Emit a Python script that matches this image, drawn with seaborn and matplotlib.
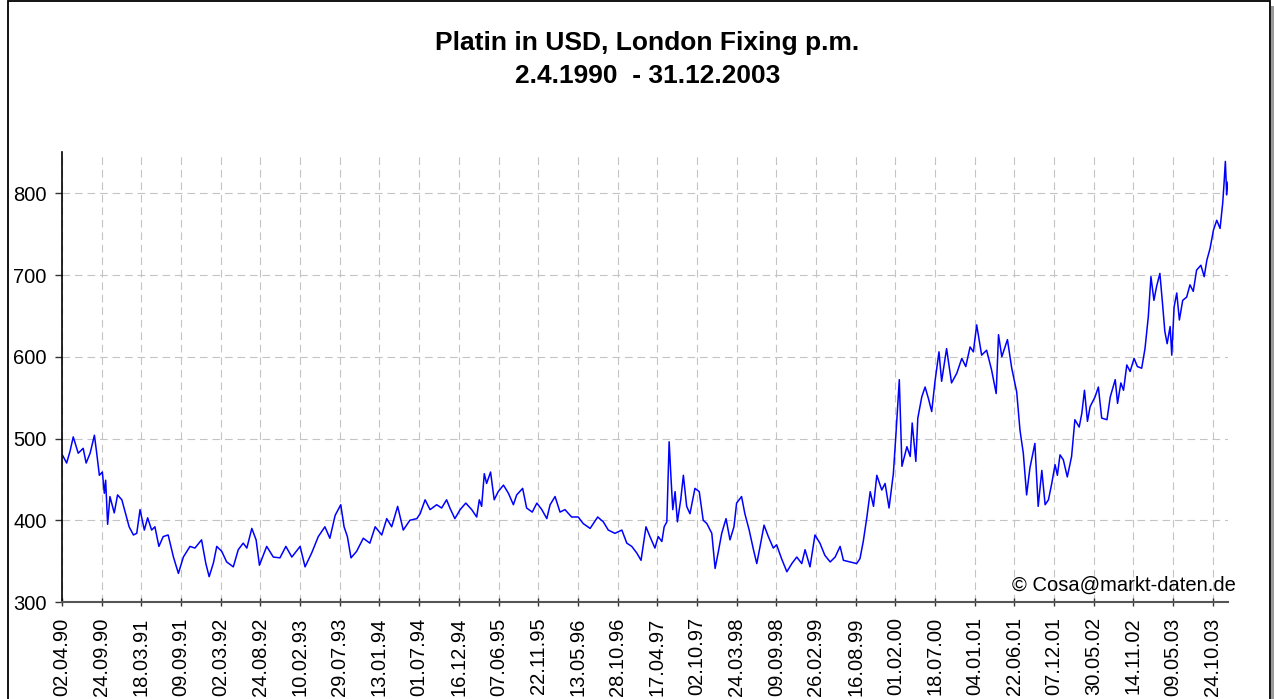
import matplotlib
matplotlib.use("Agg")
import matplotlib.pyplot as plt
from matplotlib.patches import Rectangle
import seaborn as sns
import pandas as pd

# trading day number since 02.04.1990 and the p.m. fixing in USD
day = [1, 14, 24, 34, 49, 64, 73, 85, 98, 105, 113, 122, 128, 132, 138, 145, 158, 168, 181, 191,
       203, 216, 226, 236, 249, 259, 271, 281, 293, 306, 321, 337, 352, 367, 387, 402, 422, 435, 445, 458,
       468, 483, 498, 518, 533, 548, 559, 574, 587, 597, 619, 639, 659, 677, 695, 720, 735, 755, 775, 795,
       810, 826, 843, 853, 863, 874, 891, 911, 931, 947, 967, 982, 997, 1015, 1032, 1052, 1073, 1083, 1098, 1113,
       1133, 1148, 1163, 1173, 1188, 1204, 1221, 1239, 1254, 1262, 1269, 1277, 1284, 1296, 1307, 1319, 1335, 1350, 1365, 1375,
       1393, 1405, 1422, 1436, 1451, 1466, 1476, 1491, 1506, 1521, 1541, 1561, 1576, 1597, 1620, 1637, 1652, 1672, 1693, 1708,
       1723, 1738, 1751, 1766, 1778, 1793, 1803, 1814, 1821, 1829, 1836, 1842, 1847, 1854, 1861, 1871, 1879, 1889, 1899, 1914,
       1927, 1939, 1950, 1965, 1975, 1985, 1995, 2008, 2020, 2032, 2040, 2055, 2065, 2078, 2091, 2101, 2111, 2123, 2136, 2151,
       2161, 2176, 2192, 2207, 2222, 2237, 2247, 2262, 2277, 2292, 2307, 2323, 2338, 2353, 2363, 2383, 2403, 2413, 2423, 2434,
       2444, 2454, 2464, 2479, 2489, 2501, 2514, 2522, 2532, 2540, 2555, 2565, 2571, 2582, 2588, 2600, 2610, 2620, 2630, 2640,
       2652, 2660, 2675, 2690, 2706, 2721, 2733, 2746, 2756, 2766, 2781, 2796, 2811, 2825, 2832, 2842, 2859, 2872, 2887, 2897,
       2907, 2917, 2927, 2942, 2952, 2963, 2973, 2983, 2993, 3003, 3010, 3018, 3028, 3040, 3053, 3063, 3076, 3084, 3092, 3101,
       3109, 3124, 3134, 3144, 3160, 3170, 3185, 3192, 3202, 3210, 3220, 3230, 3242, 3252, 3265, 3275, 3285, 3293, 3302, 3310,
       3320, 3328, 3335, 3342, 3351, 3356, 3363, 3371, 3379, 3389, 3401, 3411, 3421, 3431, 3444, 3454, 3462, 3472, 3482, 3492,
       3502, 3510, 3514, 3518, 3522, 3526]
price = [480, 470, 484, 502, 482, 488, 470, 482, 504, 482, 455, 459, 433, 449, 395, 429, 409, 431, 425, 410,
         392, 382, 384, 413, 388, 403, 388, 392, 368, 380, 382, 355, 335, 355, 368, 366, 376, 347, 331, 348,
         368, 362, 349, 343, 364, 372, 366, 390, 376, 345, 368, 355, 354, 368, 355, 368, 343, 360, 380, 392,
         378, 406, 419, 392, 380, 354, 362, 378, 372, 392, 382, 402, 392, 417, 388, 400, 402, 408, 425, 413,
         419, 415, 425, 415, 402, 413, 421, 413, 404, 425, 417, 457, 445, 459, 425, 435, 443, 433, 419, 431,
         439, 415, 410, 421, 413, 402, 419, 429, 410, 413, 404, 404, 396, 390, 404, 398, 388, 384, 388, 372,
         368, 360, 351, 392, 380, 366, 380, 374, 392, 398, 496, 449, 413, 435, 398, 425, 455, 417, 408, 439,
         435, 400, 396, 384, 341, 362, 384, 402, 376, 392, 421, 429, 408, 388, 364, 347, 368, 394, 380, 366,
         370, 353, 337, 347, 355, 347, 364, 343, 382, 372, 357, 349, 355, 368, 351, 349, 347, 353, 374, 404,
         435, 417, 455, 437, 445, 415, 457, 506, 572, 466, 490, 478, 519, 472, 525, 551, 563, 549, 533, 570,
         606, 570, 610, 568, 580, 598, 588, 612, 606, 639, 602, 608, 584, 555, 627, 600, 621, 586, 557, 510,
         482, 431, 464, 494, 417, 461, 419, 425, 445, 468, 455, 480, 474, 453, 478, 523, 514, 531, 559, 521,
         539, 551, 563, 525, 523, 551, 572, 543, 568, 559, 590, 582, 598, 588, 586, 610, 649, 698, 669, 686,
         702, 665, 631, 616, 637, 602, 661, 678, 645, 669, 673, 688, 680, 706, 712, 698, 718, 733, 755, 767,
         757, 788, 812, 839, 798, 814]

tick_labels = ["02.04.90", "24.09.90", "18.03.91", "09.09.91", "02.03.92", "24.08.92", "10.02.93",
               "29.07.93", "13.01.94", "01.07.94", "16.12.94", "07.06.95", "22.11.95", "13.05.96",
               "28.10.96", "17.04.97", "02.10.97", "24.03.98", "09.09.98", "26.02.99", "16.08.99",
               "01.02.00", "18.07.00", "04.01.01", "22.06.01", "07.12.01", "30.05.02", "14.11.02",
               "09.05.03", "24.10.03"]
tick_step = 120
y_ticks = [300, 400, 500, 600, 700, 800]

df = pd.DataFrame({"day": day, "price": price})

sns.set_theme(style="white")
plt.rcParams["font.family"] = ["Liberation Sans", "DejaVu Sans"]
plt.rcParams["lines.scale_dashes"] = False
plt.rcParams["text.color"] = "black"

fig = plt.figure(figsize=(12.74, 6.99), dpi=100)
W, H = 1274, 699
ax = fig.add_axes([62 / W, 1 - 602 / H, (1228 - 62) / W, (602 - 152) / H])

sns.lineplot(data=df, x="day", y="price", color="#0000ff", linewidth=1.1, ax=ax)

ax.set_xlim(0, 3526)
ax.set_ylim(300, 850.5)
ax.set_xticks([i * tick_step for i in range(len(tick_labels))])
ax.set_xticklabels(tick_labels, rotation=90, fontsize=14.5)
ax.set_yticks(y_ticks)
ax.set_yticklabels([str(v) for v in y_ticks], fontsize=14.5)
ax.set_xlabel("")
ax.set_ylabel("")

ax.grid(True, color="#c4c4c4", linestyle=(0, (5.5, 3.5)), linewidth=0.8)
ax.set_axisbelow(True)
for s in ["top", "right"]:
    ax.spines[s].set_visible(False)
ax.spines["left"].set_color("black")
ax.spines["left"].set_linewidth(1.2)
ax.spines["bottom"].set_color("#555555")
ax.spines["bottom"].set_linewidth(1.5)
ax.tick_params(axis="x", direction="inout", length=6, width=1, color="#333333",
               pad=8, labelcolor="black", bottom=True)
ax.tick_params(axis="y", direction="out", length=5, width=1, color="#333333",
               pad=6, labelcolor="black", left=True)

# title lines
fig.text(647 / W, 1 - 50 / H, "Platin in USD, London Fixing p.m.", ha="center", va="baseline",
         fontsize=19, fontweight="bold", color="black")
fig.text(648 / W, 1 - 83 / H, "2.4.1990  - 31.12.2003", ha="center", va="baseline",
         fontsize=19, fontweight="bold", color="black")
fig.text(1236 / W, 1 - 591 / H, "\u00a9 Cosa@markt-daten.de", ha="right", va="baseline",
         fontsize=14.5, color="black")

# frame around the picture with a little shadow on the right
fig.add_artist(Rectangle((1271 / W, -0.1), 3 / W, 1.1 - 6 / H, transform=fig.transFigure,
                         facecolor="#9a9a9a", edgecolor="none"))
fig.add_artist(Rectangle((8 / W, -0.1), (1270 - 8) / W, 1.1 - 1.5 / H, transform=fig.transFigure,
                         fill=False, edgecolor="black", linewidth=1.3))

fig.savefig("out.png", dpi=100)
